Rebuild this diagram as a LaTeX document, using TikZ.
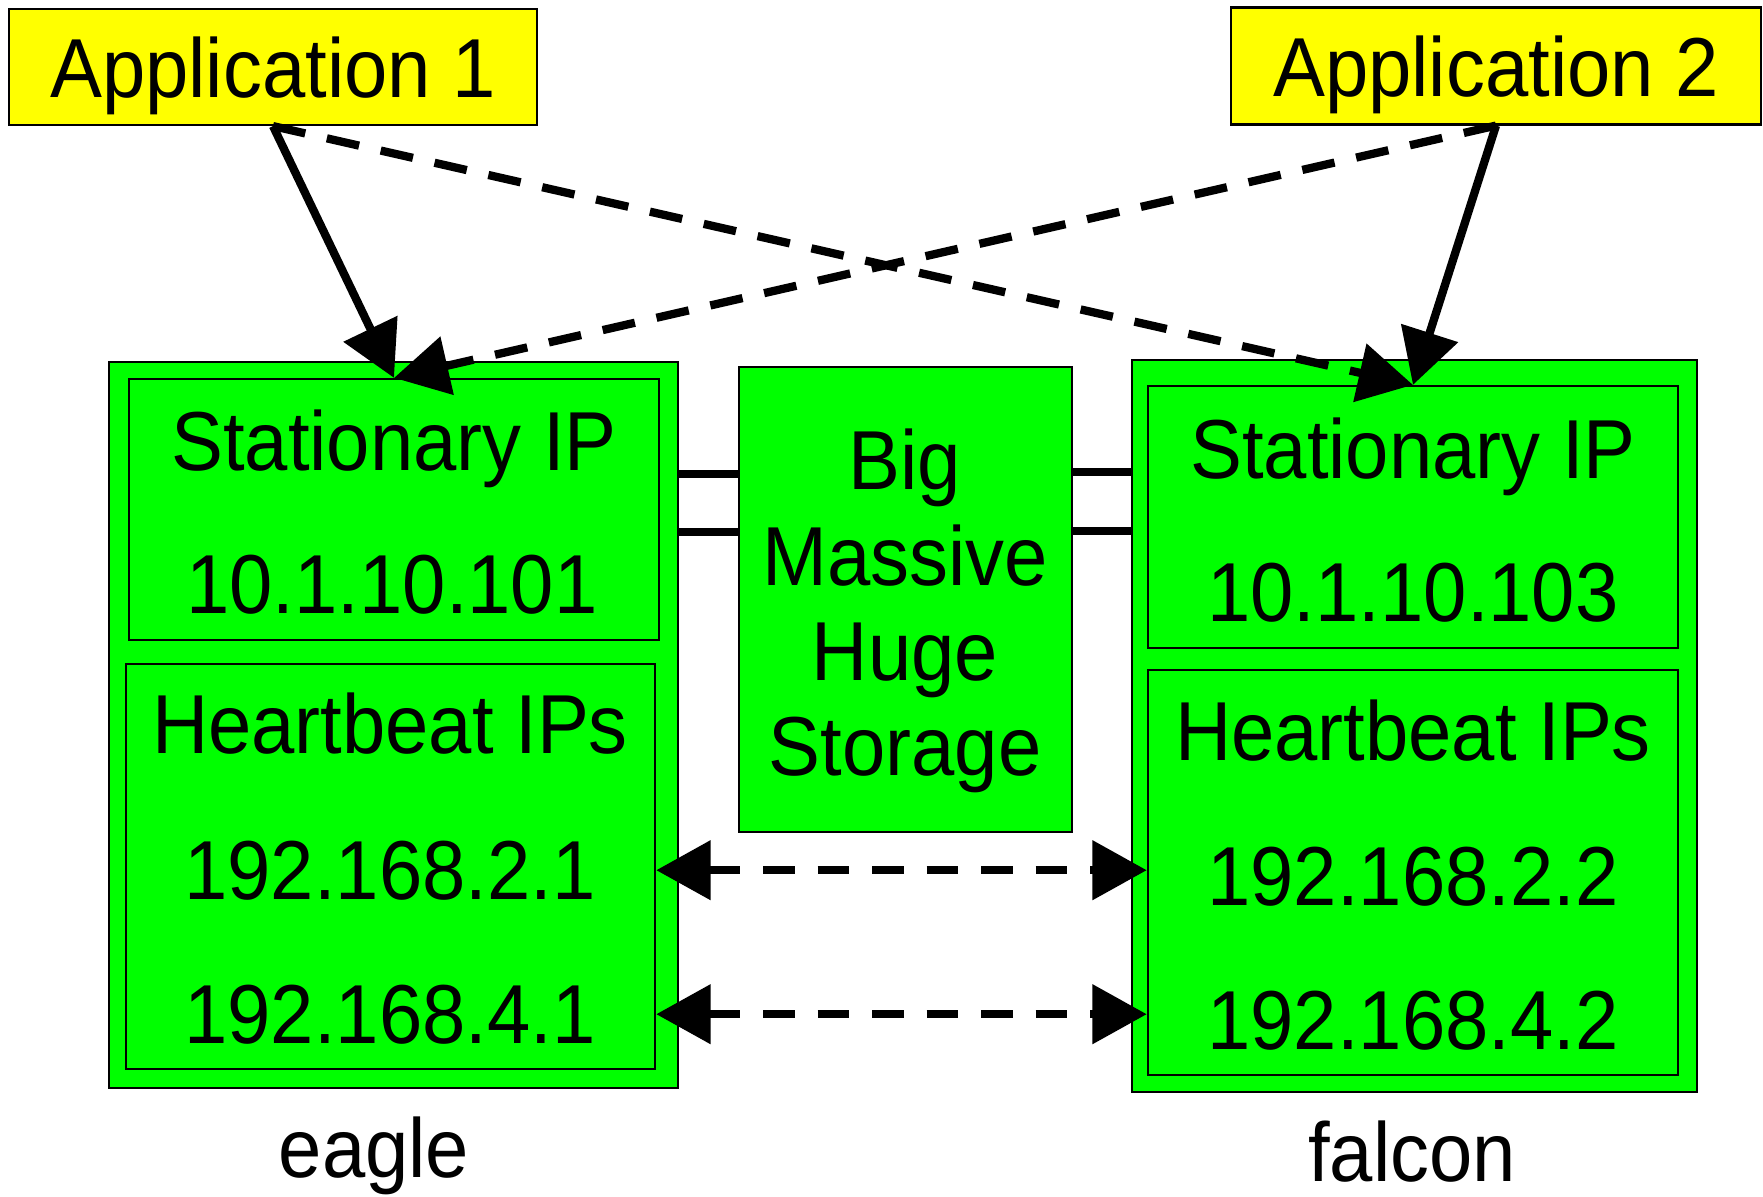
\documentclass[tikz,border=0pt]{standalone}
\usepackage{fontspec}
\setmainfont[FakeStretch=0.93]{Liberation Sans}
\usetikzlibrary{arrows.meta}
\definecolor{appyellow}{RGB}{255,255,0}
\definecolor{hostgreen}{RGB}{0,255,0}
\tikzset{
  appbox/.style={draw,fill=appyellow,line width=0.6pt,inner sep=0pt,text depth=0pt},
  hostbox/.style={draw,fill=hostgreen,line width=0.6pt,inner sep=0pt},
  lbl/.style={anchor=base,inner sep=0pt},
  link/.style={line width=2.35pt,-{Triangle[length=15.5pt,width=16.5pt]}},
  dashlink/.style={link,dash pattern=on 9.4pt off 6.3pt},
  hblink/.style={line width=2.35pt,{Triangle[length=15.5pt,width=16.5pt]}-{Triangle[length=15.5pt,width=16.5pt]},dash pattern=on 9pt off 6.5pt},
  cable/.style={line width=2.3pt}
}
\begin{document}
\begin{tikzpicture}[x=0.01cm,y=-0.01cm,font=\fontsize{23.8}{27.1}\selectfont]
  \useasboundingbox (0,0) rectangle (1763,1196);
  % Applications
  \node[appbox,minimum width=5.28cm,minimum height=1.16cm] (app1) at (273,67) {Application 1};
  \node[appbox,minimum width=5.29cm,minimum height=1.17cm] (app2) at (1496,66) {Application 2};
  % Host eagle
  \node[hostbox,minimum width=5.69cm,minimum height=7.26cm] (eagle) at (393.5,725) {};
  \node[hostbox,minimum width=5.30cm,minimum height=2.61cm] (stat1) at (394,509.5) {};
  \node[hostbox,minimum width=5.29cm,minimum height=4.05cm] (hb1) at (390.5,866.5) {};
  \node[lbl] (st1) at (394,470) {Stationary IP};
  \node[lbl] (ip1) at (392,613) {10.1.10.101};
  \node[lbl] (hbt1) at (390,753) {Heartbeat IPs};
  \node[lbl] (ip21) at (390,899) {192.168.2.1};
  \node[lbl] (ip41) at (390,1043) {192.168.4.1};
  \node[lbl] (name1) at (374,1177) {eagle};
  % Host falcon
  \node[hostbox,minimum width=5.65cm,minimum height=7.32cm] (falcon) at (1414.5,726) {};
  \node[hostbox,minimum width=5.30cm,minimum height=2.62cm] (stat2) at (1413,517) {};
  \node[hostbox,minimum width=5.30cm,minimum height=4.05cm] (hb2) at (1413,872.5) {};
  \node[lbl] (st2) at (1413,478) {Stationary IP};
  \node[lbl] (ip2) at (1413,621) {10.1.10.103};
  \node[lbl] (hbt2) at (1413,760) {Heartbeat IPs};
  \node[lbl] (ip22) at (1413,905) {192.168.2.2};
  \node[lbl] (ip42) at (1413,1049) {192.168.4.2};
  \node[lbl] (name2) at (1412,1181) {falcon};
  % Storage
  \node[hostbox,minimum width=3.33cm,minimum height=4.65cm] (store) at (905.5,599.5) {};
  \node[align=center,inner sep=0pt] (storetxt) at (905,611) {Big\\Massive\\Huge\\Storage};
  % Cables to storage
  \draw[cable] (eagle.east |- 0,474) -- (store.west |- 0,474);
  \draw[cable] (eagle.east |- 0,532) -- (store.west |- 0,532);
  \draw[cable] (store.east |- 0,472) -- (falcon.west |- 0,472);
  \draw[cable] (store.east |- 0,531) -- (falcon.west |- 0,531);
  % Application links
  \draw[link] (app1.south) -- (stat1.north);
  \draw[dashlink] (app1.south) -- (stat2.north);
  \draw[link] (app2.south) -- (stat2.north);
  \draw[dashlink] (app2.south) -- (stat1.north);
  % Heartbeat links
  \draw[hblink] (hb1.east |- ip21.center) -- (hb2.west |- ip21.center);
  \draw[hblink] (hb1.east |- ip41.center) -- (hb2.west |- ip41.center);
\end{tikzpicture}
\end{document}
